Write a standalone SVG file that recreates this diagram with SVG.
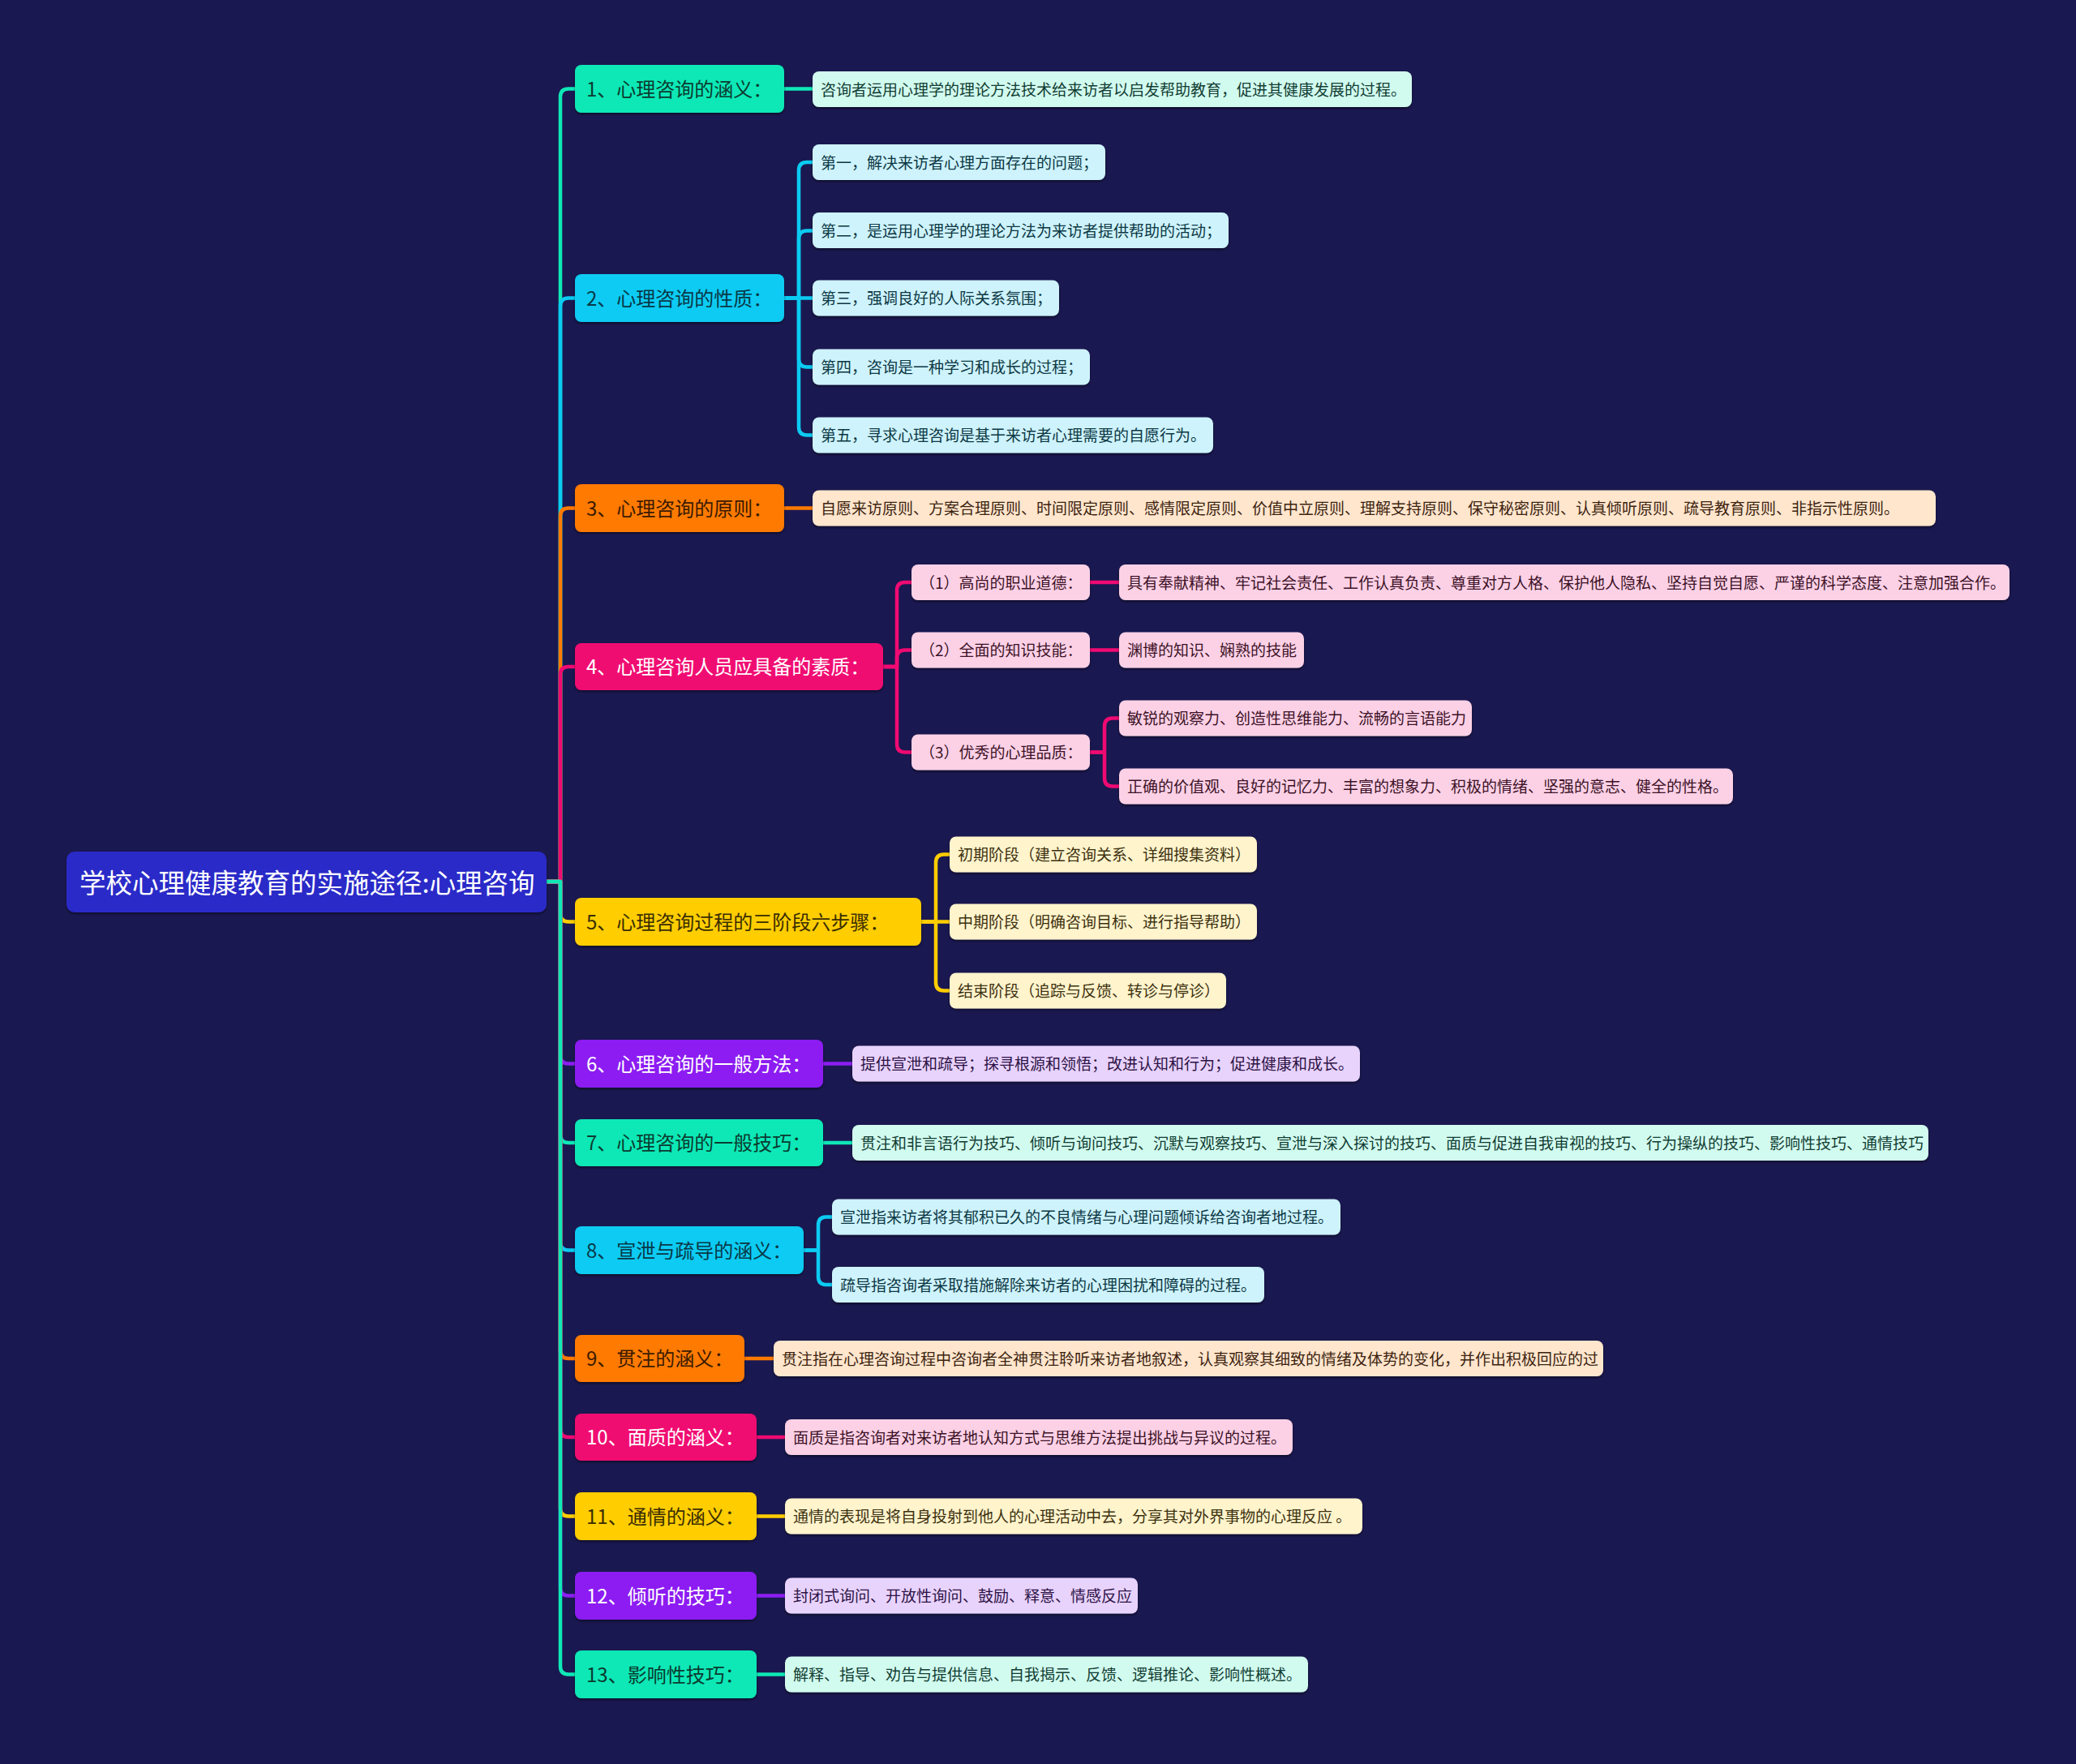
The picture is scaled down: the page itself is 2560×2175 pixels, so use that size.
<svg xmlns="http://www.w3.org/2000/svg" width="2560" height="2175" viewBox="0 0 2560 2175">
<defs>
<style>
text{font-family:"Noto Sans CJK SC","Noto Sans",sans-serif;dominant-baseline:central}
.root{font-size:32.5px;fill:#ffffff}
.t1{font-size:24px}
.t2{font-size:19px}
.conn path{fill:none;stroke-width:4.5;stroke-linecap:round;stroke-linejoin:round}
.sh{filter:url(#ds)}
.cTeal{stroke:#0fe8b6}.cCyan{stroke:#0bcbf2}.cOrange{stroke:#ff7a00}.cPink{stroke:#f00a72}.cYellow{stroke:#ffcd02}.cPurple{stroke:#8c1ef2}
.fTeal{fill:#0fe8b6}.fCyan{fill:#0bcbf2}.fOrange{fill:#ff7a00}.fPink{fill:#f00a72}.fYellow{fill:#ffcd02}.fPurple{fill:#8c1ef2}.fRoot{fill:#2b2bc8}
.lTeal{fill:#d2fbef}.lCyan{fill:#cef3fc}.lOrange{fill:#ffe6cd}.lPink{fill:#fcd1e6}.lYellow{fill:#fff4cc}.lPurple{fill:#e8d3fd}
.xTeal{fill:#0b3b30}.xCyan{fill:#083847}.xOrange{fill:#3a1a00}.xYellow{fill:#3a2d00}.xWhite{fill:#ffffff}
.yTeal{fill:#113d33}.yCyan{fill:#0c3844}.yOrange{fill:#3d2310}.yPink{fill:#3d1126}.yYellow{fill:#3d3110}.yPurple{fill:#2d1245}
</style>
<filter id="ds" x="-5%" y="-20%" width="110%" height="150%">
<feDropShadow dx="0" dy="2" stdDeviation="1.5" flood-color="#000000" flood-opacity="0.45"/>
</filter>
</defs>
<rect x="0" y="0" width="2560" height="2175" fill="#1a1850"/>

<g id="connectors" class="conn">
<path class="cTeal" d="M674 1087H691V119.5Q691 109.5 701 109.5H709"/>
<path class="cCyan" d="M674 1087H691V377.5Q691 367.5 701 367.5H709"/>
<path class="cOrange" d="M674 1087H691V636.5Q691 626.5 701 626.5H709"/>
<path class="cPink" d="M674 1087H691V832Q691 822 701 822H709"/>
<path class="cYellow" d="M674 1087H691V1126.5Q691 1136.5 701 1136.5H709"/>
<path class="cPurple" d="M674 1087H691V1301.5Q691 1311.5 701 1311.5H709"/>
<path class="cTeal" d="M674 1087H691V1399Q691 1409 701 1409H709"/>
<path class="cCyan" d="M674 1087H691V1531.5Q691 1541.5 701 1541.5H709"/>
<path class="cOrange" d="M674 1087H691V1665Q691 1675 701 1675H709"/>
<path class="cPink" d="M674 1087H691V1762Q691 1772 701 1772H709"/>
<path class="cYellow" d="M674 1087H691V1859.5Q691 1869.5 701 1869.5H709"/>
<path class="cPurple" d="M674 1087H691V1957.5Q691 1967.5 701 1967.5H709"/>
<path class="cTeal" d="M674 1087H691V2054.5Q691 2064.5 701 2064.5H709"/>

<path class="cTeal" d="M967 109.5H1002"/>
<path class="cCyan" d="M967 367.5H985V210Q985 200 995 200H1002"/>
<path class="cCyan" d="M967 367.5H985V294.5Q985 284.5 995 284.5H1002"/>
<path class="cCyan" d="M967 367.5H1002"/>
<path class="cCyan" d="M967 367.5H985V442.5Q985 452.5 995 452.5H1002"/>
<path class="cCyan" d="M967 367.5H985V526.5Q985 536.5 995 536.5H1002"/>
<path class="cOrange" d="M967 626.5H1002"/>
<path class="cPink" d="M1089 822H1106V728Q1106 718 1116 718H1124"/>
<path class="cPink" d="M1089 822H1106V811.5Q1106 801.5 1116 801.5H1124"/>
<path class="cPink" d="M1089 822H1106V917.5Q1106 927.5 1116 927.5H1124"/>
<path class="cPink" d="M1344 718H1380"/>
<path class="cPink" d="M1344 801.5H1380"/>
<path class="cPink" d="M1344 927.5H1362V895.5Q1362 885.5 1372 885.5H1380"/>
<path class="cPink" d="M1344 927.5H1362V959.5Q1362 969.5 1372 969.5H1380"/>
<path class="cYellow" d="M1136 1136.5H1154V1063.5Q1154 1053.5 1164 1053.5H1171"/>
<path class="cYellow" d="M1136 1136.5H1171"/>
<path class="cYellow" d="M1136 1136.5H1154V1211.5Q1154 1221.5 1164 1221.5H1171"/>
<path class="cPurple" d="M1015 1311.5H1051"/>
<path class="cTeal" d="M1015 1409H1051"/>
<path class="cCyan" d="M991 1541.5H1009V1510.5Q1009 1500.5 1019 1500.5H1026"/>
<path class="cCyan" d="M991 1541.5H1009V1574Q1009 1584 1019 1584H1026"/>
<path class="cOrange" d="M918 1675H954"/>
<path class="cPink" d="M933 1772H968"/>
<path class="cYellow" d="M933 1869.5H968"/>
<path class="cPurple" d="M933 1967.5H968"/>
<path class="cTeal" d="M933 2064.5H968"/>
</g>

<g id="root">
<rect class="fRoot sh" x="82" y="1050" width="592" height="75" rx="10"/>
<text class="root" x="98" y="1086">学校心理健康教育的实施途径:心理咨询</text>
</g>

<g id="n1"><rect class="fTeal sh" x="709" y="80" width="258" height="59" rx="8"/><text class="t1 xTeal" x="723" y="108">1、心理咨询的涵义：</text></g>
<g id="n2"><rect class="fCyan sh" x="709" y="338" width="258" height="59" rx="8"/><text class="t1 xCyan" x="723" y="366">2、心理咨询的性质：</text></g>
<g id="n3"><rect class="fOrange sh" x="709" y="597" width="258" height="59" rx="8"/><text class="t1 xOrange" x="723" y="625">3、心理咨询的原则：</text></g>
<g id="n4"><rect class="fPink sh" x="709" y="793" width="380" height="58" rx="8"/><text class="t1 xWhite" x="723" y="820">4、心理咨询人员应具备的素质：</text></g>
<g id="n5"><rect class="fYellow sh" x="709" y="1107" width="427" height="59" rx="8"/><text class="t1 xYellow" x="723" y="1135">5、心理咨询过程的三阶段六步骤：</text></g>
<g id="n6"><rect class="fPurple sh" x="709" y="1282" width="306" height="59" rx="8"/><text class="t1 xWhite" x="723" y="1310">6、心理咨询的一般方法：</text></g>
<g id="n7"><rect class="fTeal sh" x="709" y="1380" width="306" height="58" rx="8"/><text class="t1 xTeal" x="723" y="1407">7、心理咨询的一般技巧：</text></g>
<g id="n8"><rect class="fCyan sh" x="709" y="1512" width="282" height="59" rx="8"/><text class="t1 xCyan" x="723" y="1540">8、宣泄与疏导的涵义：</text></g>
<g id="n9"><rect class="fOrange sh" x="709" y="1646" width="209" height="58" rx="8"/><text class="t1 xOrange" x="723" y="1673">9、贯注的涵义：</text></g>
<g id="n10"><rect class="fPink sh" x="709" y="1743" width="224" height="58" rx="8"/><text class="t1 xWhite" x="723" y="1770">10、面质的涵义：</text></g>
<g id="n11"><rect class="fYellow sh" x="709" y="1840" width="224" height="59" rx="8"/><text class="t1 xYellow" x="723" y="1868">11、通情的涵义：</text></g>
<g id="n12"><rect class="fPurple sh" x="709" y="1938" width="224" height="59" rx="8"/><text class="t1 xWhite" x="723" y="1966">12、倾听的技巧：</text></g>
<g id="n13"><rect class="fTeal sh" x="709" y="2035" width="224" height="59" rx="8"/><text class="t1 xTeal" x="723" y="2063">13、影响性技巧：</text></g>

<g id="n1-1"><rect class="lTeal sh" x="1002" y="88" width="739" height="44" rx="8"/><text class="t2 yTeal" x="1012" y="109">咨询者运用心理学的理论方法技术给来访者以启发帮助教育，促进其健康发展的过程。</text></g>

<g id="n2-1"><rect class="lCyan sh" x="1002" y="178" width="361" height="44" rx="8"/><text class="t2 yCyan" x="1012" y="199">第一，解决来访者心理方面存在的问题；</text></g>
<g id="n2-2"><rect class="lCyan sh" x="1002" y="262" width="513" height="44" rx="8"/><text class="t2 yCyan" x="1012" y="283.5">第二，是运用心理学的理论方法为来访者提供帮助的活动；</text></g>
<g id="n2-3"><rect class="lCyan sh" x="1002" y="345.5" width="304" height="44" rx="8"/><text class="t2 yCyan" x="1012" y="366.5">第三，强调良好的人际关系氛围；</text></g>
<g id="n2-4"><rect class="lCyan sh" x="1002" y="430.5" width="342" height="44" rx="8"/><text class="t2 yCyan" x="1012" y="451.5">第四，咨询是一种学习和成长的过程；</text></g>
<g id="n2-5"><rect class="lCyan sh" x="1002" y="514.5" width="494" height="44" rx="8"/><text class="t2 yCyan" x="1012" y="535.5">第五，寻求心理咨询是基于来访者心理需要的自愿行为。</text></g>

<g id="n3-1"><rect class="lOrange sh" x="1002" y="604.5" width="1385" height="44" rx="8"/><text class="t2 yOrange" x="1012" y="625.5">自愿来访原则、方案合理原则、时间限定原则、感情限定原则、价值中立原则、理解支持原则、保守秘密原则、认真倾听原则、疏导教育原则、非指示性原则。</text></g>

<g id="n4-1"><rect class="lPink sh" x="1124" y="696" width="220" height="44" rx="8"/><text class="t2 yPink" x="1134" y="717">（1）高尚的职业道德：</text></g>
<g id="n4-2"><rect class="lPink sh" x="1124" y="779.5" width="220" height="44" rx="8"/><text class="t2 yPink" x="1134" y="800.5">（2）全面的知识技能：</text></g>
<g id="n4-3"><rect class="lPink sh" x="1124" y="905.5" width="220" height="44" rx="8"/><text class="t2 yPink" x="1134" y="926.5">（3）优秀的心理品质：</text></g>
<g id="n4-1-1"><rect class="lPink sh" x="1380" y="696" width="1098" height="44" rx="8"/><text class="t2 yPink" x="1390" y="717">具有奉献精神、牢记社会责任、工作认真负责、尊重对方人格、保护他人隐私、坚持自觉自愿、严谨的科学态度、注意加强合作。</text></g>
<g id="n4-2-1"><rect class="lPink sh" x="1380" y="779.5" width="228" height="44" rx="8"/><text class="t2 yPink" x="1390" y="800.5">渊博的知识、娴熟的技能</text></g>
<g id="n4-3-1"><rect class="lPink sh" x="1380" y="863.5" width="435" height="44" rx="8"/><text class="t2 yPink" x="1390" y="884.5">敏锐的观察力、创造性思维能力、流畅的言语能力</text></g>
<g id="n4-3-2"><rect class="lPink sh" x="1380" y="947.5" width="757" height="44" rx="8"/><text class="t2 yPink" x="1390" y="968.5">正确的价值观、良好的记忆力、丰富的想象力、积极的情绪、坚强的意志、健全的性格。</text></g>

<g id="n5-1"><rect class="lYellow sh" x="1171" y="1031.5" width="379" height="44" rx="8"/><text class="t2 yYellow" x="1181" y="1052.5">初期阶段（建立咨询关系、详细搜集资料）</text></g>
<g id="n5-2"><rect class="lYellow sh" x="1171" y="1114.5" width="379" height="44" rx="8"/><text class="t2 yYellow" x="1181" y="1135.5">中期阶段（明确咨询目标、进行指导帮助）</text></g>
<g id="n5-3"><rect class="lYellow sh" x="1171" y="1199.5" width="341" height="44" rx="8"/><text class="t2 yYellow" x="1181" y="1220.5">结束阶段（追踪与反馈、转诊与停诊）</text></g>

<g id="n6-1"><rect class="lPurple sh" x="1051" y="1289.5" width="626" height="44" rx="8"/><text class="t2 yPurple" x="1061" y="1310.5">提供宣泄和疏导；探寻根源和领悟；改进认知和行为；促进健康和成长。</text></g>
<g id="n7-1"><rect class="lTeal sh" x="1051" y="1387" width="1327" height="44" rx="8"/><text class="t2 yTeal" x="1061" y="1408">贯注和非言语行为技巧、倾听与询问技巧、沉默与观察技巧、宣泄与深入探讨的技巧、面质与促进自我审视的技巧、行为操纵的技巧、影响性技巧、通情技巧</text></g>
<g id="n8-1"><rect class="lCyan sh" x="1026" y="1478.5" width="627" height="44" rx="8"/><text class="t2 yCyan" x="1036" y="1499.5">宣泄指来访者将其郁积已久的不良情绪与心理问题倾诉给咨询者地过程。</text></g>
<g id="n8-2"><rect class="lCyan sh" x="1026" y="1562" width="533" height="44" rx="8"/><text class="t2 yCyan" x="1036" y="1583">疏导指咨询者采取措施解除来访者的心理困扰和障碍的过程。</text></g>
<g id="n9-1"><rect class="lOrange sh" x="954" y="1653" width="1023" height="44" rx="8"/><text class="t2 yOrange" x="964" y="1674">贯注指在心理咨询过程中咨询者全神贯注聆听来访者地叙述，认真观察其细致的情绪及体势的变化，并作出积极回应的过</text></g>
<g id="n10-1"><rect class="lPink sh" x="968" y="1750" width="626" height="44" rx="8"/><text class="t2 yPink" x="978" y="1771">面质是指咨询者对来访者地认知方式与思维方法提出挑战与异议的过程。</text></g>
<g id="n11-1"><rect class="lYellow sh" x="968" y="1847.5" width="712" height="44" rx="8"/><text class="t2 yYellow" x="978" y="1868.5">通情的表现是将自身投射到他人的心理活动中去，分享其对外界事物的心理反应 。</text></g>
<g id="n12-1"><rect class="lPurple sh" x="968" y="1945.5" width="435" height="44" rx="8"/><text class="t2 yPurple" x="978" y="1966.5">封闭式询问、开放性询问、鼓励、释意、情感反应</text></g>
<g id="n13-1"><rect class="lTeal sh" x="968" y="2042.5" width="645" height="44" rx="8"/><text class="t2 yTeal" x="978" y="2063.5">解释、指导、劝告与提供信息、自我揭示、反馈、逻辑推论、影响性概述。</text></g>
</svg>
